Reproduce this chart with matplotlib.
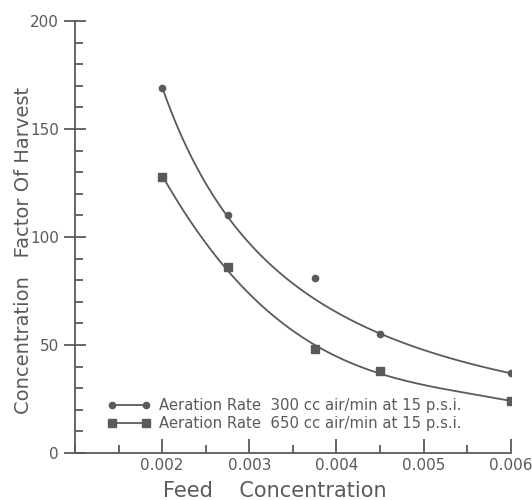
import numpy as np
import matplotlib
matplotlib.use('Agg')
import matplotlib.pyplot as plt
from matplotlib.ticker import MultipleLocator

# data
feed = [0.002, 0.00275, 0.00375, 0.0045, 0.006]
harvest_300 = [169, 110, 81, 55, 37]
harvest_650 = [128, 86, 48, 38, 24]
lbl_300 = 'Aeration Rate  300 cc air/min at 15 p.s.i.'
lbl_650 = 'Aeration Rate  650 cc air/min at 15 p.s.i.'

clr = '#5a5a5a'
plt.rcParams['font.family'] = ['DejaVu Sans']

fig = plt.figure(figsize=(5.32, 5.0), dpi=100)
ax = fig.add_axes([0.141, 0.094, 0.819, 0.864])


def fit_curve(x, y, w=None, loglog=True, deg=2):
    # smooth curve drawn through the points (least squares fit)
    x, y = np.asarray(x), np.asarray(y, dtype=float)
    xx = np.linspace(x.min(), x.max(), 200)
    if loglog:
        p = np.polyfit(np.log(x), np.log(y), deg, w=w)
        return xx, np.exp(np.polyval(p, np.log(xx)))
    p = np.polyfit(x * 1000, y, deg, w=w)
    return xx, np.polyval(p, xx * 1000)


# the 0.00375 point of the 300 cc series sits off the drawn curve
xx, yy = fit_curve(feed, harvest_300, w=[1, 1, 0.05, 1, 1])
ax.plot(xx, yy, color=clr, lw=1.3)
ax.plot(feed, harvest_300, 'o', color=clr, ms=4.5)
ax.plot([], [], marker='o', color=clr, ms=4.5, lw=1.3, label=lbl_300)

xx, yy = fit_curve(feed, harvest_650, loglog=False, deg=3)
ax.plot(xx, yy, color=clr, lw=1.3)
ax.plot(feed, harvest_650, 's', color=clr, ms=6)
ax.plot([], [], marker='s', color=clr, ms=6, lw=1.3, label=lbl_650)

ax.set_xlim(0.001, 0.006)
ax.set_ylim(0, 200)
ax.xaxis.set_minor_locator(MultipleLocator(0.0005))
ax.yaxis.set_major_locator(MultipleLocator(50))
ax.yaxis.set_minor_locator(MultipleLocator(10))
ax.set_xticks([0.002, 0.003, 0.004, 0.005, 0.006])
ax.set_xticklabels(['0.002', '0.003', '0.004', '0.005', '0.006'])
ax.tick_params(which='both', direction='in', color=clr, labelcolor=clr, labelsize=11)
ax.tick_params(which='major', length=10, width=1.3)
ax.tick_params(which='minor', length=6, width=1.3)
ax.tick_params(axis='y', which='major', direction='inout', length=16)
for s in ['top', 'right']:
    ax.spines[s].set_visible(False)
for s in ['left', 'bottom']:
    ax.spines[s].set_color(clr)
    ax.spines[s].set_linewidth(1.3)

ax.set_xlabel('Feed    Concentration', fontsize=15, color=clr)
ax.xaxis.set_label_coords(0.458, -0.065)
ax.set_ylabel('Concentration   Factor Of Harvest', fontsize=14, color=clr)
ax.yaxis.set_label_coords(-0.097, 0.47)

leg = ax.legend(loc='lower left', bbox_to_anchor=(0.075, 0.05), frameon=False, numpoints=2,
                fontsize=10.7, handlelength=2.9, handletextpad=0.55, labelspacing=0.22,
                borderpad=0, borderaxespad=0)
for t in leg.get_texts():
    t.set_color(clr)

fig.savefig('out.png', dpi=100)
